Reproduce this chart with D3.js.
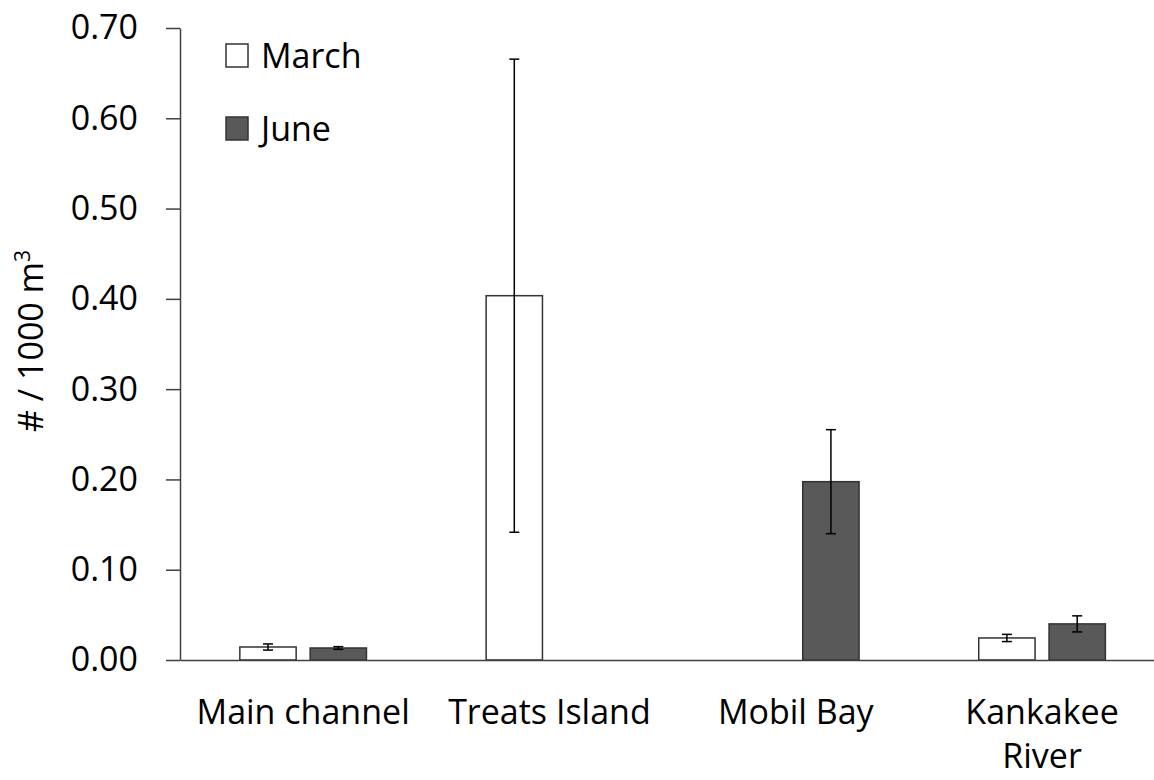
<!DOCTYPE html>
<html>
<head>
<meta charset="utf-8">
<script src="https://cdn.jsdelivr.net/npm/d3@7"></script>
<style>
  html, body { margin: 0; padding: 0; background: #fff; }
  svg { display: block; }
  text { font-family: "Open Sans", Lato, sans-serif; fill: #000; }
</style>
</head>
<body>
<svg id="chart" width="1154" height="780"></svg>
<script>
const categories = ["Main channel", "Treats Island", "Mobil Bay", "Kankakee River"];
const seriesNames = ["March", "June"];
const marchValues = [0.0144, 0.4035, null, 0.0244];
const marchErrors = [0.0034, 0.262, null, 0.004];
const juneValues = [0.0133, null, 0.1975, 0.040];
const juneErrors = [0.0015, null, 0.0576, 0.0089];
const yTicks = [0, 0.1, 0.2, 0.3, 0.4, 0.5, 0.6, 0.7];

const seriesColors = { "March": "#ffffff", "June": "#595959" };

(function () {
const svg = d3.select("#chart");
const plotLeft = 180, plotTop = 28, plotBottom = 660, bandW = 246.3;
const plotRight = plotLeft + bandW * categories.length;
const fs = "34px";

const y = d3.scaleLinear().domain([0, 0.7]).range([plotBottom, plotTop]);
const x0 = d3.scaleBand().domain(categories).range([plotLeft, plotRight]).padding(0);
const x1 = d3.scaleBand().domain(seriesNames).range([0, x0.bandwidth()])
  .paddingInner(0.199).paddingOuter(0.851);

const data = [];
categories.forEach((c, i) => {
  data.push({ cat: c, s: "March", v: marchValues[i], e: marchErrors[i] });
  data.push({ cat: c, s: "June", v: juneValues[i], e: juneErrors[i] });
});
const present = data.filter(d => d.v != null);

// Y axis
const yAxis = d3.axisLeft(y).tickValues(yTicks).tickFormat(d3.format(".2f"))
  .tickSizeInner(14).tickSizeOuter(0).tickPadding(28);
const gy = svg.append("g").attr("transform", `translate(${plotLeft},0)`).call(yAxis);
gy.select(".domain").attr("stroke", "#404040").attr("stroke-width", 1.5);
gy.selectAll(".tick line").attr("stroke", "#404040").attr("stroke-width", 1.5);
gy.selectAll(".tick text").style("font-size", fs).style("font-family", "'Open Sans', sans-serif").attr("fill", "#000");

// Bars
svg.append("g").selectAll("rect").data(present).join("rect")
  .attr("x", d => x0(d.cat) + x1(d.s))
  .attr("y", d => y(d.v))
  .attr("width", x1.bandwidth())
  .attr("height", d => y(0) - y(d.v))
  .attr("fill", d => seriesColors[d.s])
  .attr("stroke", "#333")
  .attr("stroke-width", 1.5);

// X axis
const xAxis = d3.axisBottom(x0).tickSize(0).tickFormat("");
const gx = svg.append("g").attr("transform", `translate(0,${plotBottom})`).call(xAxis);
gx.select(".domain").attr("stroke", "#404040").attr("stroke-width", 1.5);

// category labels
const labelLines = { "Kankakee River": ["Kankakee", "River"] };
categories.forEach(c => {
  const lines = labelLines[c] || [c];
  const cx = x0(c) + x0.bandwidth() / 2;
  const t = svg.append("text")
    .attr("x", cx)
    .attr("y", 724)
    .attr("text-anchor", "middle")
    .style("font-size", fs);
  lines.forEach((ln, i) => {
    t.append("tspan").attr("x", cx).attr("dy", i === 0 ? 0 : 44).text(ln);
  });
});

// Error bars
const eg = svg.append("g").attr("stroke", "#000").attr("stroke-width", 1.5);
present.forEach(d => {
  const cx = x0(d.cat) + x1(d.s) + x1.bandwidth() / 2;
  const y1v = y(d.v + d.e), y2v = y(d.v - d.e);
  eg.append("line").attr("x1", cx).attr("x2", cx).attr("y1", y1v).attr("y2", y2v);
  eg.append("line").attr("x1", cx - 5).attr("x2", cx + 5).attr("y1", y1v).attr("y2", y1v);
  eg.append("line").attr("x1", cx - 5).attr("x2", cx + 5).attr("y1", y2v).attr("y2", y2v);
});

// Y label
const yl = svg.append("text")
  .attr("transform", "translate(43,341) rotate(-90)")
  .attr("text-anchor", "middle")
  .style("font-size", fs);
yl.append("tspan").text("# / 1000 m");
yl.append("tspan").attr("dy", -13).style("font-size", "21px").text("3");

// Legend
const legend = svg.append("g");
seriesNames.forEach((s, i) => {
  const ly = 44 + i * 73;
  legend.append("rect").attr("x", 226).attr("y", ly).attr("width", 22).attr("height", 23)
    .attr("fill", seriesColors[s]).attr("stroke", "#333").attr("stroke-width", 1.5);
  legend.append("text").attr("x", 261).attr("y", ly + 24)
    .style("font-size", fs).text(s);
});
})();
</script>
</body>
</html>
